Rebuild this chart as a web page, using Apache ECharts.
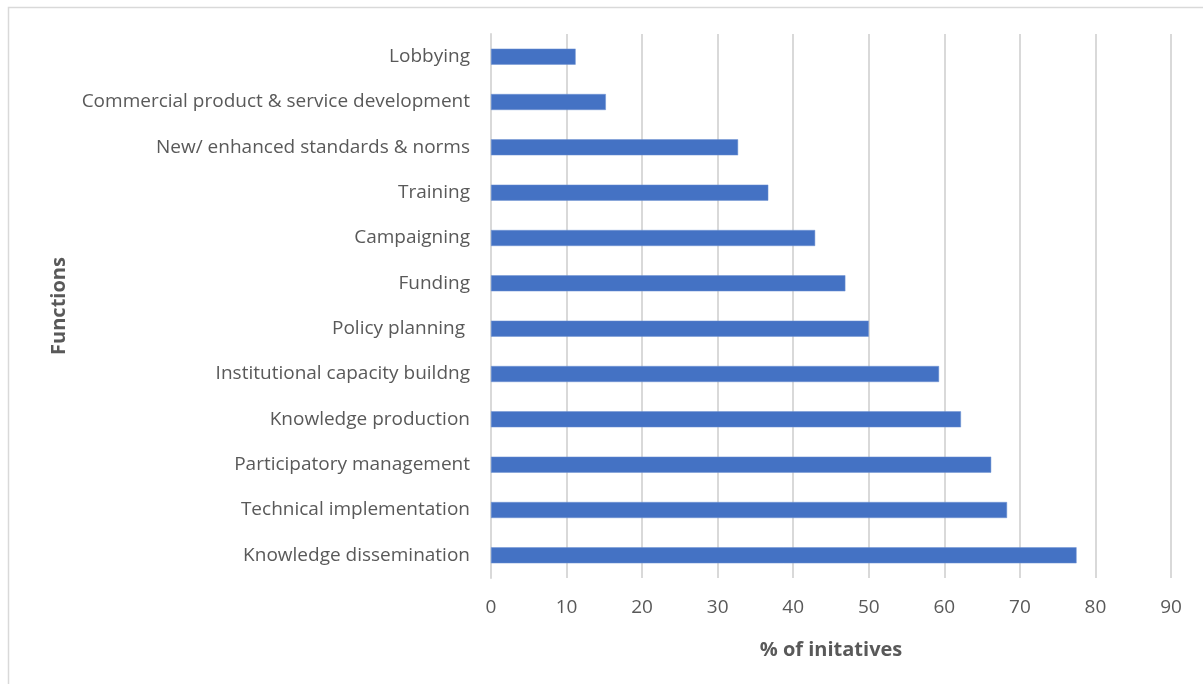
<!DOCTYPE html>
<html>
<head>
<meta charset="utf-8">
<style>
  html, body { margin: 0; padding: 0; background: #ffffff; }
  #chart { width: 1203px; height: 684px; }
</style>
<script src="https://cdn.jsdelivr.net/npm/echarts@6/dist/echarts.min.js"></script>
</head>
<body>
<div id="chart"></div>
<script>
// Categories listed bottom-to-top (category axis starts at the bottom)
const categories = [
  "Knowledge dissemination",
  "Technical implementation",
  "Participatory management",
  "Knowledge production",
  "Institutional capacity buildng",
  "Policy planning ",
  "Funding",
  "Campaigning",
  "Training",
  "New/ enhanced standards & norms",
  "Commercial product & service development",
  "Lobbying"
];
const values = [77.5, 68.3, 66.2, 62.2, 59.3, 50.0, 46.9, 42.9, 36.7, 32.7, 15.2, 11.2];
const xTicks = { min: 0, max: 90, interval: 10 };
const xAxisTitle = "% of initatives";
const yAxisTitle = "Functions";

const chart = echarts.init(document.getElementById('chart'));
const fontFam = '"Open Sans", Lato, "Liberation Sans", sans-serif';
chart.setOption({
  animation: false,
  backgroundColor: '#ffffff',
  graphic: [{
    type: 'rect',
    shape: { x: 8.5, y: 7.5, width: 1230, height: 720 },
    style: { fill: 'none', stroke: '#d9d9d9', lineWidth: 1.5 },
    silent: true
  }],
  grid: { left: 491, right: 32, top: 34, bottom: 106, containLabel: false },
  xAxis: {
    type: 'value',
    min: xTicks.min, max: xTicks.max, interval: xTicks.interval,
    name: xAxisTitle,
    nameLocation: 'middle',
    nameGap: 62,
    nameTextStyle: { fontFamily: fontFam, fontSize: 20, fontWeight: 'bold', color: '#595959' },
    axisLine: { show: false },
    axisTick: { show: false },
    axisLabel: { fontFamily: fontFam, fontSize: 19, color: '#595959', margin: 20 },
    splitLine: { show: true, lineStyle: { color: '#d9d9d9', width: 2 } }
  },
  yAxis: {
    type: 'category',
    data: categories,
    name: yAxisTitle,
    nameLocation: 'middle',
    nameGap: 422,
    nameRotate: 90,
    nameTextStyle: { fontFamily: fontFam, fontSize: 20, fontWeight: 'bold', color: '#595959' },
    axisLine: { show: true, lineStyle: { color: '#d9d9d9', width: 2 } },
    axisTick: { show: false },
    axisLabel: { fontFamily: fontFam, fontSize: 19, color: '#595959', margin: 21 }
  },
  series: [{
    type: 'bar',
    data: values,
    barWidth: 16,
    itemStyle: { color: '#4472c4', borderColor: '#6f93d3', borderWidth: 0.5 }
  }]
});
</script>
</body>
</html>
